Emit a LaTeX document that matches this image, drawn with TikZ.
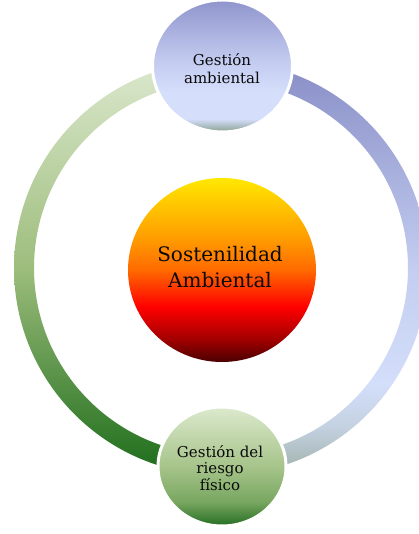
\documentclass[tikz,border=0pt]{standalone}
\usepackage{fontspec}
\setmainfont{DejaVu Serif}
\usetikzlibrary{shapes.geometric}
% ring colours
\definecolor{lgT}{HTML}{DCE8CE}
\definecolor{lgM}{HTML}{9DBD7C}
\definecolor{lgB}{HTML}{1C6C1A}
\definecolor{rbT}{HTML}{888EC6}
\definecolor{rbM}{HTML}{C3CDF0}
\definecolor{rbL}{HTML}{D3DEFA}
\definecolor{rbG}{HTML}{C4D2E2}
\definecolor{rbB}{HTML}{9FB0A8}
% top circle
\definecolor{tcT}{HTML}{8F95CC}
\definecolor{tcM}{HTML}{C3CBF0}
\definecolor{tcL}{HTML}{D5DFFB}
\definecolor{tcB}{HTML}{8AA090}
% bottom circle
\definecolor{bcT}{HTML}{DCE9CD}
\definecolor{bcM}{HTML}{A6C48A}
\definecolor{bcL}{HTML}{78A660}
\definecolor{bcB}{HTML}{236D22}
% centre circle
\definecolor{ccA}{HTML}{4A0000}
\definecolor{ccB}{HTML}{A00000}
\definecolor{ccC}{HTML}{FF0000}
\definecolor{ccD}{HTML}{FF6A00}
\definecolor{ccE}{HTML}{FF9900}
\definecolor{ccF}{HTML}{FFE800}
\definecolor{txt}{HTML}{0A0A0A}
\pgfdeclareverticalshading{ringleft}{100bp}{color(0bp)=(lgB); color(25bp)=(lgB); color(50bp)=(lgM); color(75bp)=(lgT); color(100bp)=(lgT)}
\pgfdeclareverticalshading{ringright}{100bp}{color(0bp)=(rbB); color(25bp)=(rbB); color(31bp)=(rbG); color(36bp)=(rbL); color(50bp)=(rbM); color(75bp)=(rbT); color(100bp)=(rbT)}
\pgfdeclareverticalshading{topcirc}{100bp}{color(0bp)=(tcB); color(25bp)=(tcB); color(30bp)=(tcL); color(40bp)=(tcL); color(52bp)=(tcM); color(75bp)=(tcT); color(100bp)=(tcT)}
\pgfdeclareverticalshading{botcirc}{100bp}{color(0bp)=(bcB); color(25bp)=(bcB); color(35bp)=(bcL); color(50bp)=(bcM); color(75bp)=(bcT); color(100bp)=(bcT)}
\pgfdeclareverticalshading{cencirc}{100bp}{color(0bp)=(ccA); color(25bp)=(ccA); color(31bp)=(ccB); color(40bp)=(ccC); color(50bp)=(ccD); color(58bp)=(ccE); color(75bp)=(ccF); color(100bp)=(ccF)}
\begin{document}
\begin{tikzpicture}[x=1pt,y=1pt,
  bubble/.style={ellipse,inner sep=0pt,outer sep=0pt,draw=white,line width=3pt},
  lbl/.style={align=center,text=txt,inner sep=0pt}]
\useasboundingbox[fill=white] (0,0) rectangle (419,534);
\coordinate (rc) at (221,266);
% ring
\path[shading=ringleft] (rc) ++(0,207) arc[start angle=90,end angle=270,radius=207]
  -- ++(0,20) arc[start angle=270,end angle=90,radius=187] -- cycle;
\path[shading=ringright] (rc) ++(0,-207) arc[start angle=-90,end angle=90,radius=207]
  -- ++(0,-20) arc[start angle=90,end angle=-90,radius=187] -- cycle;
% circles
\node[bubble,shading=topcirc,minimum width=140pt,minimum height=132pt] (ga) at (222.5,468) {};
\node[bubble,shading=botcirc,minimum width=128pt,minimum height=119pt] (gr) at (222,67.5) {};
\node[ellipse,inner sep=0pt,shading=cencirc,minimum width=188pt,minimum height=184pt] (sa) at (222,264) {};
% labels
\node[lbl,font=\fontsize{15}{18}\selectfont] (ta) at (222,465.5) {Gestión\\ambiental};
\node[lbl,font=\fontsize{20}{26}\selectfont] (ts) at (220,266.5) {Sostenilidad\\Ambiental};
\node[lbl,font=\fontsize{15}{16.5}\selectfont] (tr) at (220,66) {Gestión del\\riesgo\\físico};
\end{tikzpicture}
\end{document}
